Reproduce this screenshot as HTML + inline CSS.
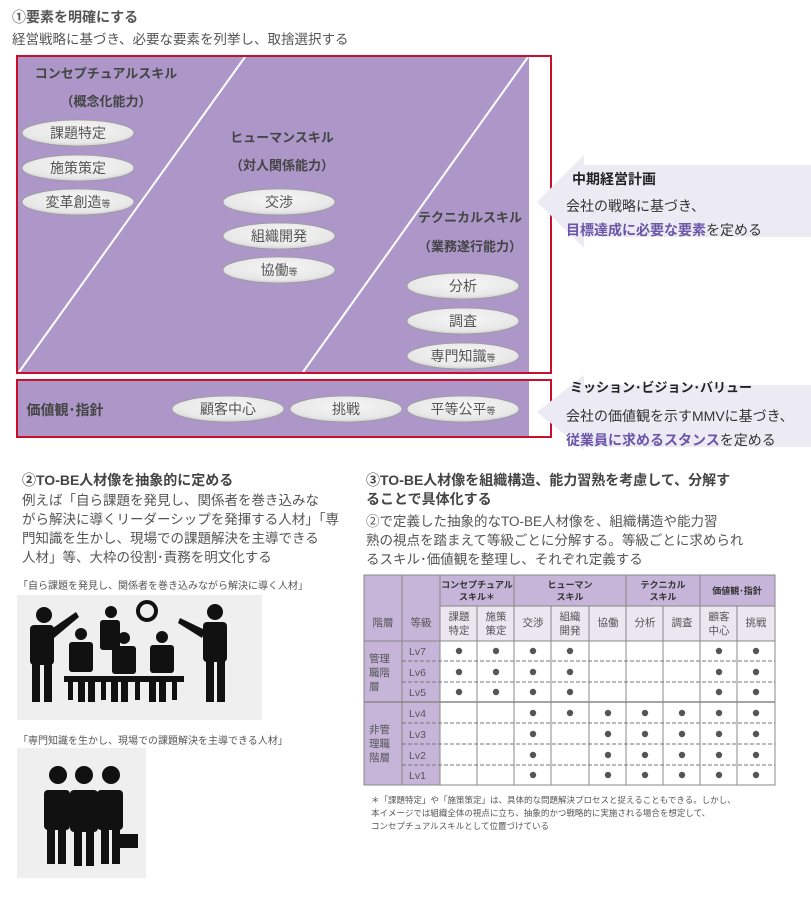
<!DOCTYPE html>
<html><head><meta charset="utf-8"><style>
body{margin:0;background:#fff;width:811px;height:918px;overflow:hidden;font-family:"Liberation Sans","Noto Sans CJK JP",sans-serif;color:#555}
.t{position:absolute;white-space:nowrap}
</style></head><body>
<svg width="811" height="918" style="position:absolute;left:0;top:0" font-family="Liberation Sans, Noto Sans CJK JP, sans-serif">
<defs>
<radialGradient id="eg" cx="50%" cy="40%" r="60%"><stop offset="0" stop-color="#f6f6f6"/><stop offset="0.8" stop-color="#e8e8e8"/><stop offset="1" stop-color="#cfcfcf"/></radialGradient>
</defs>
<text x="12" y="22" font-size="14" font-weight="bold" fill="#555">①要素を明確にする</text>
<text x="12" y="44" font-size="13.5" fill="#555">経営戦略に基づき、必要な要素を列挙し、取捨選択する</text>
<!-- main box -->
<rect x="17" y="57" width="512" height="316" fill="#ad97c9"/>
<line x1="245" y1="57" x2="19" y2="372" stroke="#fff" stroke-width="2"/>
<line x1="528" y1="57" x2="303" y2="372" stroke="#fff" stroke-width="2"/>
<rect x="17" y="56" width="534" height="317" fill="none" stroke="#c8102e" stroke-width="2"/>
<rect x="17" y="381" width="512" height="56" fill="#ad97c9"/>
<rect x="17" y="380" width="534" height="57" fill="none" stroke="#c8102e" stroke-width="2"/>
<g font-size="13" font-weight="bold" fill="#444" text-anchor="middle">
<text x="106" y="78">コンセプチュアルスキル</text>
<text x="106" y="106">（概念化能力）</text>
<text x="282" y="142">ヒューマンスキル</text>
<text x="282" y="170">（対人関係能力）</text>
<text x="470" y="222">テクニカルスキル</text>
<text x="470" y="251">（業務遂行能力）</text>
<text x="65" y="415" text-anchor="middle" font-size="14">価値観･指針</text>
</g>
<g stroke="#999" stroke-width="0.8" fill="url(#eg)">
<ellipse cx="78" cy="133" rx="56" ry="13"/><ellipse cx="78" cy="168" rx="56" ry="13"/><ellipse cx="78" cy="202" rx="56" ry="13"/>
<ellipse cx="279" cy="202" rx="56" ry="13"/><ellipse cx="279" cy="236" rx="56" ry="13"/><ellipse cx="279" cy="270" rx="56" ry="13"/>
<ellipse cx="463" cy="286" rx="56" ry="13"/><ellipse cx="463" cy="321" rx="56" ry="13"/><ellipse cx="463" cy="356" rx="56" ry="13"/>
<ellipse cx="228" cy="409" rx="56" ry="13"/><ellipse cx="346" cy="409" rx="56" ry="13"/><ellipse cx="463" cy="409" rx="56" ry="13"/>
</g>
<g font-size="14" fill="#555" text-anchor="middle">
<text x="78" y="138">課題特定</text><text x="78" y="173">施策策定</text><text x="78" y="207">変革創造<tspan font-size="9">等</tspan></text>
<text x="279" y="207">交渉</text><text x="279" y="241">組織開発</text><text x="279" y="275">協働<tspan font-size="9">等</tspan></text>
<text x="463" y="291">分析</text><text x="463" y="326">調査</text><text x="463" y="361">専門知識<tspan font-size="9">等</tspan></text>
<text x="228" y="414">顧客中心</text><text x="346" y="414">挑戦</text><text x="463" y="414">平等公平<tspan font-size="9">等</tspan></text>
</g>
<!-- arrows -->
<polygon points="537,202 584,155 584,165 811,165 811,237 584,237 584,248" fill="#ecebf3"/>
<polygon points="537,412 584,375 584,385 811,385 811,447 584,447 584,450" fill="#ecebf3"/>
<text x="572" y="184" font-size="14" font-weight="bold" fill="#222">中期経営計画</text>
<text x="566" y="211" font-size="14" fill="#333">会社の戦略に基づき、</text>
<text x="566" y="235" font-size="14" fill="#333"><tspan fill="#6b56a8" font-weight="bold">目標達成に必要な要素</tspan>を定める</text>
<text x="570" y="392" font-size="13" font-weight="bold" fill="#222">ミッション･ビジョン･バリュー</text>
<text x="566" y="421" font-size="14" fill="#333">会社の価値観を示すMMVに基づき、</text>
<text x="566" y="445" font-size="14" fill="#333"><tspan fill="#6b56a8" font-weight="bold">従業員に求めるスタンス</tspan>を定める</text>
<!-- section 2 -->
<text x="22" y="485" font-size="14" font-weight="bold" fill="#444">②TO-BE人材像を抽象的に定める</text>
<g font-size="13.5" fill="#555">
<text x="22" y="505">例えば「自ら課題を発見し、関係者を巻き込みな</text>
<text x="22" y="524">がら解決に導くリーダーシップを発揮する人材」「専</text>
<text x="22" y="543">門知識を生かし、現場での課題解決を主導できる</text>
<text x="22" y="562">人材」等、大枠の役割･責務を明文化する</text>
</g>
<text x="18" y="589" font-size="10" fill="#555">「自ら課題を発見し、関係者を巻き込みながら解決に導く人材」</text>
<text x="18" y="744" font-size="10" fill="#555">「専門知識を生かし、現場での課題解決を主導できる人材」</text>
<rect x="17" y="595" width="245" height="125" fill="#efefef"/>
<rect x="17" y="748" width="129" height="130" fill="#efefef"/>
<g fill="#111">
<circle cx="44" cy="615" r="8"/><rect x="30" y="625" width="24" height="40" rx="4"/><rect x="32" y="660" width="8" height="42"/><rect x="44" y="660" width="8" height="42"/><path d="M50,630 L76,612 L79,617 L54,638Z"/>
<circle cx="111" cy="612" r="6"/><rect x="100" y="620" width="20" height="30" rx="3"/>
<circle cx="147" cy="611" r="9" fill="none" stroke="#111" stroke-width="4"/>
<circle cx="81" cy="634" r="6"/><rect x="69" y="642" width="24" height="30" rx="3"/>
<circle cx="124" cy="638" r="6"/><rect x="112" y="646" width="24" height="28" rx="3"/>
<circle cx="162" cy="637" r="6"/><rect x="150" y="645" width="24" height="28" rx="3"/>
<rect x="64" y="676" width="120" height="6"/>
<rect x="68" y="682" width="5" height="18"/><rect x="78" y="676" width="7" height="26"/><rect x="88" y="676" width="7" height="26"/><rect x="101" y="682" width="5" height="18"/><rect x="111" y="676" width="7" height="26"/><rect x="121" y="676" width="7" height="26"/><rect x="135" y="682" width="5" height="18"/><rect x="149" y="676" width="7" height="26"/><rect x="159" y="676" width="7" height="26"/><rect x="172" y="682" width="5" height="18"/>
<circle cx="215" cy="612" r="8"/><rect x="203" y="622" width="24" height="40" rx="4"/><rect x="206" y="658" width="8" height="44"/><rect x="217" y="658" width="8" height="44"/><path d="M205,630 L180,618 L178,623 L202,638Z"/>
<circle cx="58" cy="775" r="9"/><circle cx="84" cy="775" r="9"/><circle cx="111" cy="775" r="9"/>
<rect x="44" y="790" width="26" height="40" rx="4"/><rect x="97" y="790" width="26" height="40" rx="4"/><rect x="70" y="790" width="28" height="42" rx="4"/>
<rect x="47" y="826" width="8" height="38"/><rect x="58" y="826" width="8" height="38"/><rect x="74" y="830" width="8" height="36"/><rect x="86" y="830" width="8" height="36"/><rect x="101" y="826" width="8" height="38"/><rect x="112" y="826" width="8" height="38"/>
<rect x="120" y="834" width="18" height="14"/>
</g>
<!-- section 3 -->
<g font-size="14" font-weight="bold" fill="#444">
<text x="366" y="485">③TO-BE人材像を組織構造、能力習熟を考慮して、分解す</text>
<text x="366" y="504">ることで具体化する</text>
</g>
<g font-size="13.5" fill="#555">
<text x="366" y="526">②で定義した抽象的なTO-BE人材像を、組織構造や能力習</text>
<text x="366" y="545">熟の視点を踏まえて等級ごとに分解する。等級ごとに求められ</text>
<text x="366" y="564">るスキル･価値観を整理し、それぞれ定義する</text>
</g>
<!-- table -->
<rect x="364" y="575" width="411" height="210" fill="#fff"/>
<rect x="364" y="575" width="76" height="66" fill="#c7b5d9"/>
<rect x="364" y="641" width="76" height="144" fill="#c7b5d9"/>
<rect x="440" y="575" width="335" height="31" fill="#c7b5d9"/>
<rect x="440" y="606" width="335" height="35" fill="#ece6f1"/>
<g stroke="#888" stroke-width="1" fill="none">
<rect x="364" y="575" width="411" height="210"/>
<line x1="440" y1="606" x2="775" y2="606"/>
<line x1="364" y1="641" x2="775" y2="641"/>
<line x1="364" y1="702" x2="775" y2="702" stroke-width="1.5"/>
<line x1="402" y1="575" x2="402" y2="785"/>
<line x1="440" y1="575" x2="440" y2="785"/>
<line x1="514" y1="575" x2="514" y2="785"/><line x1="626" y1="575" x2="626" y2="785"/><line x1="700" y1="575" x2="700" y2="785"/>
<line x1="477" y1="606" x2="477" y2="785"/><line x1="551" y1="606" x2="551" y2="785"/><line x1="589" y1="606" x2="589" y2="785"/><line x1="663" y1="606" x2="663" y2="785"/><line x1="737" y1="606" x2="737" y2="785"/>
<g stroke-dasharray="4,2" stroke="#777">
<line x1="402" y1="661" x2="775" y2="661"/><line x1="402" y1="682" x2="775" y2="682"/>
<line x1="402" y1="723" x2="775" y2="723"/><line x1="402" y1="744" x2="775" y2="744"/><line x1="402" y1="765" x2="775" y2="765"/>
</g>
</g>
<g font-size="9" font-weight="bold" fill="#333" text-anchor="middle">
<text x="477" y="588">コンセプチュアル</text><text x="477" y="600">スキル＊</text>
<text x="570" y="588">ヒューマン</text><text x="570" y="600">スキル</text>
<text x="663" y="588">テクニカル</text><text x="663" y="600">スキル</text>
<text x="737" y="594">価値観･指針</text>
</g>
<g font-size="10.5" fill="#555" text-anchor="middle">
<text x="383" y="626">階層</text><text x="421" y="626">等級</text>
<text x="459" y="620">課題</text><text x="459" y="634">特定</text>
<text x="496" y="620">施策</text><text x="496" y="634">策定</text>
<text x="533" y="626">交渉</text>
<text x="570" y="620">組織</text><text x="570" y="634">開発</text>
<text x="608" y="626">協働</text><text x="645" y="626">分析</text><text x="682" y="626">調査</text>
<text x="719" y="620">顧客</text><text x="719" y="634">中心</text>
<text x="756" y="626">挑戦</text>
</g>
<g font-size="10.5" fill="#555">
<text x="369" y="662">管理</text><text x="369" y="676">職階</text><text x="369" y="690">層</text>
<text x="369" y="733">非管</text><text x="369" y="747">理職</text><text x="369" y="761">階層</text>
<text x="409" y="655">Lv7</text><text x="409" y="676">Lv6</text><text x="409" y="696">Lv5</text>
<text x="409" y="717">Lv4</text><text x="409" y="738">Lv3</text><text x="409" y="759">Lv2</text><text x="409" y="779">Lv1</text>
</g>
<g fill="#555">
<circle cx="459" cy="651" r="3.2"/><circle cx="496" cy="651" r="3.2"/><circle cx="533" cy="651" r="3.2"/><circle cx="570" cy="651" r="3.2"/><circle cx="719" cy="651" r="3.2"/><circle cx="756" cy="651" r="3.2"/>
<circle cx="459" cy="672" r="3.2"/><circle cx="496" cy="672" r="3.2"/><circle cx="533" cy="672" r="3.2"/><circle cx="570" cy="672" r="3.2"/><circle cx="719" cy="672" r="3.2"/><circle cx="756" cy="672" r="3.2"/>
<circle cx="459" cy="692" r="3.2"/><circle cx="496" cy="692" r="3.2"/><circle cx="533" cy="692" r="3.2"/><circle cx="570" cy="692" r="3.2"/><circle cx="719" cy="692" r="3.2"/><circle cx="756" cy="692" r="3.2"/>
<circle cx="533" cy="713" r="3.2"/><circle cx="570" cy="713" r="3.2"/><circle cx="608" cy="713" r="3.2"/><circle cx="645" cy="713" r="3.2"/><circle cx="682" cy="713" r="3.2"/><circle cx="719" cy="713" r="3.2"/><circle cx="756" cy="713" r="3.2"/>
<circle cx="533" cy="734" r="3.2"/><circle cx="608" cy="734" r="3.2"/><circle cx="645" cy="734" r="3.2"/><circle cx="682" cy="734" r="3.2"/><circle cx="719" cy="734" r="3.2"/><circle cx="756" cy="734" r="3.2"/>
<circle cx="533" cy="755" r="3.2"/><circle cx="608" cy="755" r="3.2"/><circle cx="645" cy="755" r="3.2"/><circle cx="682" cy="755" r="3.2"/><circle cx="719" cy="755" r="3.2"/><circle cx="756" cy="755" r="3.2"/>
<circle cx="533" cy="775" r="3.2"/><circle cx="608" cy="775" r="3.2"/><circle cx="645" cy="775" r="3.2"/><circle cx="682" cy="775" r="3.2"/><circle cx="719" cy="775" r="3.2"/><circle cx="756" cy="775" r="3.2"/>
</g>
<g font-size="8.5" fill="#555">
<text x="371" y="803">＊「課題特定」や「施策策定」は、具体的な問題解決プロセスと捉えることもできる。しかし、</text>
<text x="371" y="816">本イメージでは組織全体の視点に立ち、抽象的かつ戦略的に実施される場合を想定して、</text>
<text x="371" y="829">コンセプチュアルスキルとして位置づけている</text>
</g>
</svg>
</body></html>
